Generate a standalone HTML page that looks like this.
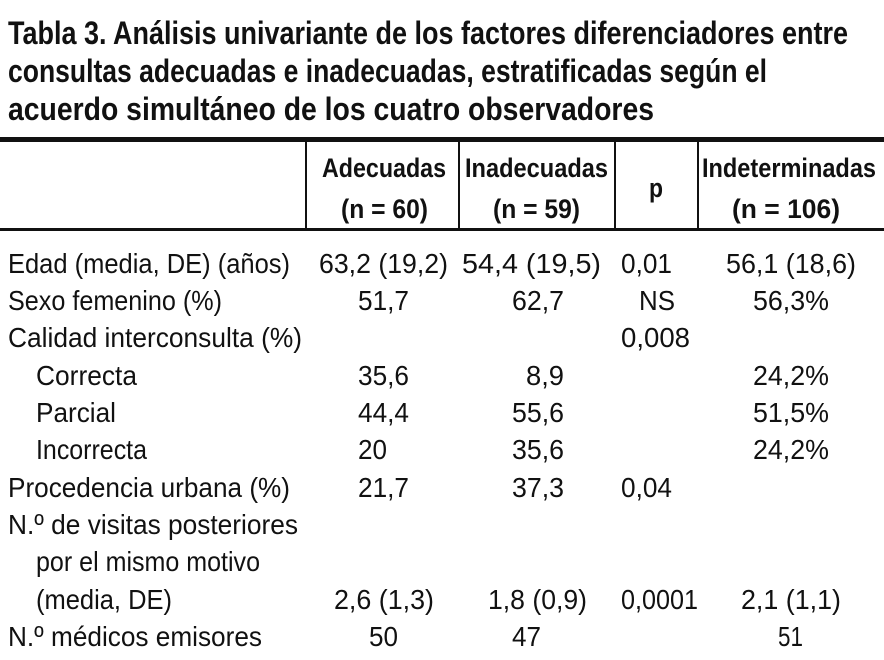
<!DOCTYPE html>
<html><head><meta charset="utf-8"><style>
html,body{margin:0;padding:0;background:#fff;width:884px;height:660px;overflow:hidden}
svg{display:block}
text{font-family:"Liberation Sans",sans-serif;fill:#111}
.t{font-weight:bold;font-size:32px}
.h{font-weight:bold;font-size:27px}
.b{font-size:28px}
</style></head><body>
<svg width="884" height="660">
<g>
<text class="t" x="8" y="44" textLength="840" lengthAdjust="spacingAndGlyphs">Tabla 3. Análisis univariante de los factores diferenciadores entre</text>
<text class="t" x="8" y="82" textLength="759" lengthAdjust="spacingAndGlyphs">consultas adecuadas e inadecuadas, estratificadas según el</text>
<text class="t" x="8" y="120" textLength="646" lengthAdjust="spacingAndGlyphs">acuerdo simultáneo de los cuatro observadores</text>
</g>
<rect x="0" y="137" width="884" height="5" fill="#111"/>
<rect x="0" y="228" width="884" height="3" fill="#111"/>
<g fill="#111">
<rect x="305" y="142" width="2" height="86"/><rect x="458" y="142" width="2" height="86"/>
<rect x="614" y="142" width="2" height="86"/><rect x="697" y="142" width="2" height="86"/>
</g>
<g>
<text class="h" x="322" y="177" textLength="124" lengthAdjust="spacingAndGlyphs">Adecuadas</text>
<text class="h" x="341" y="218" textLength="87" lengthAdjust="spacingAndGlyphs">(n = 60)</text>
<text class="h" x="465" y="177" textLength="143" lengthAdjust="spacingAndGlyphs">Inadecuadas</text>
<text class="h" x="493" y="218" textLength="87" lengthAdjust="spacingAndGlyphs">(n = 59)</text>
<text class="h" x="649" y="197" textLength="14" lengthAdjust="spacingAndGlyphs">p</text>
<text class="h" x="702" y="177" textLength="174" lengthAdjust="spacingAndGlyphs">Indeterminadas</text>
<text class="h" x="732" y="218" textLength="108" lengthAdjust="spacingAndGlyphs">(n = 106)</text>
</g>
<g>
<text class="b" x="8" y="273" textLength="282" lengthAdjust="spacingAndGlyphs">Edad (media, DE) (años)</text>
<text class="b" x="319" y="273" textLength="129" lengthAdjust="spacingAndGlyphs">63,2 (19,2)</text>
<text class="b" x="462" y="273" textLength="139" lengthAdjust="spacingAndGlyphs">54,4 (19,5)</text>
<text class="b" x="621" y="273" textLength="51" lengthAdjust="spacingAndGlyphs">0,01</text>
<text class="b" x="726" y="273" textLength="130" lengthAdjust="spacingAndGlyphs">56,1 (18,6)</text>

<text class="b" x="8" y="310" textLength="214" lengthAdjust="spacingAndGlyphs">Sexo femenino (%)</text>
<text class="b" x="358" y="310" textLength="51" lengthAdjust="spacingAndGlyphs">51,7</text>
<text class="b" x="512" y="310" textLength="52" lengthAdjust="spacingAndGlyphs">62,7</text>
<text class="b" x="639" y="310" textLength="36" lengthAdjust="spacingAndGlyphs">NS</text>
<text class="b" x="753" y="310" textLength="76" lengthAdjust="spacingAndGlyphs">56,3%</text>

<text class="b" x="8" y="347" textLength="294" lengthAdjust="spacingAndGlyphs">Calidad interconsulta (%)</text>
<text class="b" x="621" y="347" textLength="69" lengthAdjust="spacingAndGlyphs">0,008</text>

<text class="b" x="36" y="385" textLength="101" lengthAdjust="spacingAndGlyphs">Correcta</text>
<text class="b" x="358" y="385" textLength="51" lengthAdjust="spacingAndGlyphs">35,6</text>
<text class="b" x="526" y="385" textLength="38" lengthAdjust="spacingAndGlyphs">8,9</text>
<text class="b" x="753" y="385" textLength="76" lengthAdjust="spacingAndGlyphs">24,2%</text>

<text class="b" x="36" y="422" textLength="80" lengthAdjust="spacingAndGlyphs">Parcial</text>
<text class="b" x="358" y="422" textLength="51" lengthAdjust="spacingAndGlyphs">44,4</text>
<text class="b" x="512" y="422" textLength="52" lengthAdjust="spacingAndGlyphs">55,6</text>
<text class="b" x="753" y="422" textLength="76" lengthAdjust="spacingAndGlyphs">51,5%</text>

<text class="b" x="36" y="459" textLength="111" lengthAdjust="spacingAndGlyphs">Incorrecta</text>
<text class="b" x="358" y="459" textLength="29" lengthAdjust="spacingAndGlyphs">20</text>
<text class="b" x="512" y="459" textLength="52" lengthAdjust="spacingAndGlyphs">35,6</text>
<text class="b" x="753" y="459" textLength="76" lengthAdjust="spacingAndGlyphs">24,2%</text>

<text class="b" x="8" y="497" textLength="282" lengthAdjust="spacingAndGlyphs">Procedencia urbana (%)</text>
<text class="b" x="358" y="497" textLength="51" lengthAdjust="spacingAndGlyphs">21,7</text>
<text class="b" x="512" y="497" textLength="52" lengthAdjust="spacingAndGlyphs">37,3</text>
<text class="b" x="621" y="497" textLength="51" lengthAdjust="spacingAndGlyphs">0,04</text>

<text class="b" x="8" y="534" textLength="290" lengthAdjust="spacingAndGlyphs">N.º de visitas posteriores</text>
<text class="b" x="36" y="571" textLength="224" lengthAdjust="spacingAndGlyphs">por el mismo motivo</text>
<text class="b" x="36" y="609" textLength="136" lengthAdjust="spacingAndGlyphs">(media, DE)</text>
<text class="b" x="334" y="609" textLength="100" lengthAdjust="spacingAndGlyphs">2,6 (1,3)</text>
<text class="b" x="488" y="609" textLength="99" lengthAdjust="spacingAndGlyphs">1,8 (0,9)</text>
<text class="b" x="621" y="609" textLength="77" lengthAdjust="spacingAndGlyphs">0,0001</text>
<text class="b" x="741" y="609" textLength="100" lengthAdjust="spacingAndGlyphs">2,1 (1,1)</text>

<text class="b" x="8" y="646" textLength="254" lengthAdjust="spacingAndGlyphs">N.º médicos emisores</text>
<text class="b" x="369" y="646" textLength="29" lengthAdjust="spacingAndGlyphs">50</text>
<text class="b" x="512" y="646" textLength="29" lengthAdjust="spacingAndGlyphs">47</text>
<text class="b" x="778" y="646" textLength="25" lengthAdjust="spacingAndGlyphs">51</text>
</g>
</svg>
</body></html>
